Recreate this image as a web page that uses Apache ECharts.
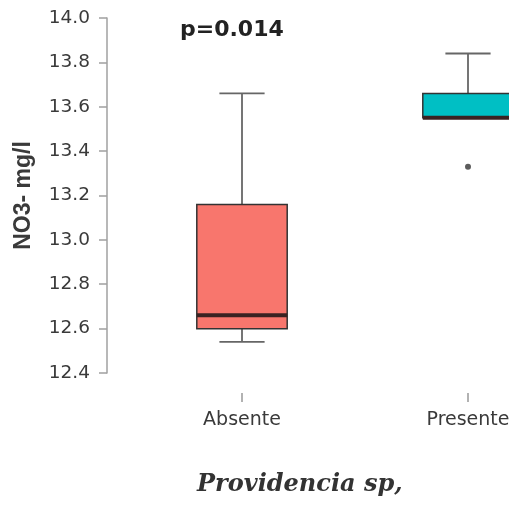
<!DOCTYPE html>
<html><head><meta charset="utf-8">
<script src="https://cdn.jsdelivr.net/npm/echarts@6/dist/echarts.min.js"></script>
<style>html,body{margin:0;padding:0;background:#fff}#c{width:509px;height:506px}</style>
</head><body><div id="c"></div>
<script>
const categories = ['Absente', 'Presente'];
const whiskerLow = [12.54, 13.55];
const q1 = [12.60, 13.55];
const median = [12.66, 13.55];
const q3 = [13.16, 13.66];
const whiskerHigh = [13.66, 13.84];
const outliers = [[1, 13.33]];
const fills = ['#F8766D', '#00BFC4'];
const yTicks = [12.4, 14.0, 0.2];
const pText = 'p=0.014';
const caption = 'Providencia sp,';

const boxData = categories.map((c, i) => [i, whiskerLow[i], q1[i], median[i], q3[i], whiskerHigh[i]]);

const chart = echarts.init(document.getElementById('c'));
chart.setOption({
  animation: false,
  grid: { left: 129, width: 452, top: 18, height: 355, outerBoundsMode: 'none', containLabel: false },
  xAxis: {
    type: 'category', data: categories, offset: 20,
    axisLine: { show: false },
    axisTick: { show: true, alignWithLabel: true, length: 9, lineStyle: { color: '#999', width: 1.5 } },
    axisLabel: { margin: 18, fontSize: 19, color: '#3a3a3a', fontFamily: 'DejaVu Sans' },
    splitLine: { show: false }
  },
  yAxis: {
    type: 'value', min: yTicks[0], max: yTicks[1], interval: yTicks[2], offset: 22,
    name: 'NO3- mg/l', nameLocation: 'middle', nameGap: 72,
    nameTextStyle: { fontSize: 23, fontWeight: 'bold', color: '#3a3a3a', fontFamily: 'Liberation Sans' },
    axisLine: { show: true, lineStyle: { color: '#a0a0a0', width: 1.5 } },
    axisTick: { show: true, length: 8, lineStyle: { color: '#a0a0a0', width: 1.5 } },
    axisLabel: { margin: 17, fontSize: 18.5, color: '#3a3a3a', fontFamily: 'DejaVu Sans', formatter: v => v.toFixed(1) },
    splitLine: { show: false }
  },
  graphic: [
    { type: 'text', left: 180, top: 19, style: { text: pText, font: 'bold 22px "DejaVu Sans"', fill: '#222' } },
    { type: 'text', left: 197, top: 473, style: { text: caption, font: 'italic bold 24px "DejaVu Serif"', fill: '#333' } }
  ],
  series: [
    {
      type: 'custom',
      data: boxData,
      encode: { x: 0, y: [1, 2, 3, 4, 5] },
      renderItem: function (params, api) {
        const x = api.value(0);
        const lo = api.coord([x, api.value(1)]);
        const b1 = api.coord([x, api.value(2)]);
        const md = api.coord([x, api.value(3)]);
        const b3 = api.coord([x, api.value(4)]);
        const hi = api.coord([x, api.value(5)]);
        const band = api.size([1, 0])[0];
        const bw = band * 0.4, cw = bw / 2;
        const cx = lo[0];
        const wStyle = { stroke: '#666', lineWidth: 1.8 };
        return {
          type: 'group',
          children: [
            { type: 'line', shape: { x1: cx, y1: hi[1], x2: cx, y2: b3[1] }, style: wStyle },
            { type: 'line', shape: { x1: cx, y1: lo[1], x2: cx, y2: b1[1] }, style: wStyle },
            { type: 'line', shape: { x1: cx - cw / 2, y1: hi[1], x2: cx + cw / 2, y2: hi[1] }, style: wStyle },
            { type: 'line', shape: { x1: cx - cw / 2, y1: lo[1], x2: cx + cw / 2, y2: lo[1] }, style: wStyle },
            { type: 'rect', shape: { x: cx - bw / 2, y: b3[1], width: bw, height: b1[1] - b3[1] },
              style: { fill: fills[params.dataIndex], stroke: '#333', lineWidth: 1.5 } },
            { type: 'line', shape: { x1: cx - bw / 2, y1: md[1], x2: cx + bw / 2, y2: md[1] },
              style: { stroke: '#3a2222', lineWidth: 4 } }
          ]
        };
      }
    },
    {
      type: 'scatter', data: outliers, symbolSize: 6,
      itemStyle: { color: '#333' }
    }
  ]
});
</script></body></html>
